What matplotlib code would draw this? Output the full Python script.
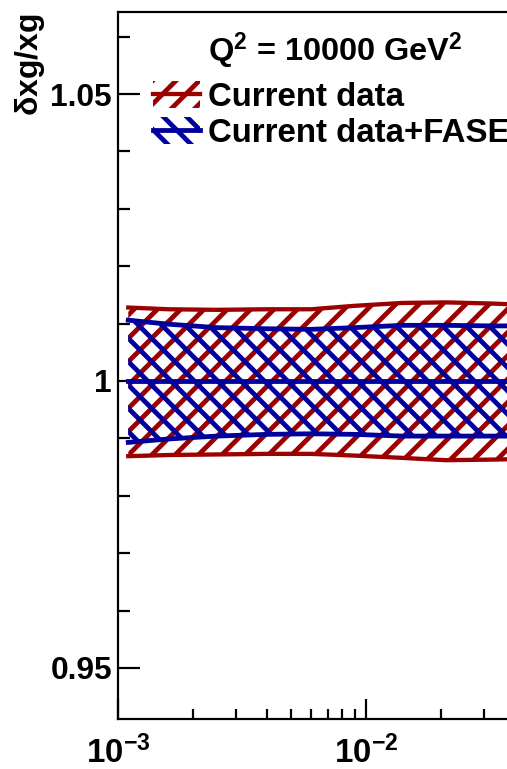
import numpy as np
import matplotlib
matplotlib.use("Agg")
import matplotlib.pyplot as plt
from matplotlib.patches import Patch
from matplotlib.lines import Line2D
from matplotlib.ticker import MultipleLocator, FuncFormatter, LogLocator, LogFormatterMathtext

# x values and relative uncertainty bands
x = [0.0011, 0.0016, 0.0025, 0.004, 0.006, 0.009, 0.014, 0.021, 0.032, 0.042]
cur_up = [1.0128, 1.0125, 1.0124, 1.0125, 1.0125, 1.0131, 1.0136, 1.0137, 1.0135, 1.0133]
cur_dn = [0.9869, 0.9871, 0.9872, 0.9873, 0.9873, 0.9870, 0.9866, 0.9862, 0.9863, 0.9864]
fas_up = [1.0106, 1.0099, 1.0093, 1.0091, 1.0090, 1.0093, 1.0097, 1.0097, 1.0096, 1.0096]
fas_dn = [0.9893, 0.9899, 0.9904, 0.9907, 0.9908, 0.9907, 0.9904, 0.9904, 0.9904, 0.9904]
central = [1.0] * len(x)

labels = ["Current data", "Current data+FASER"]
title = r"Q$^{\mathbf{2}}$ = 10000 GeV$^{\mathbf{2}}$"

red = "#9c0000"
blue = "#00009c"

plt.rcParams['font.family'] = ['Liberation Sans', 'DejaVu Sans']
plt.rcParams['font.weight'] = 'bold'
plt.rcParams['mathtext.fontset'] = 'custom'
plt.rcParams['mathtext.rm'] = 'Liberation Sans'
plt.rcParams['mathtext.it'] = 'Liberation Sans:italic'
plt.rcParams['mathtext.bf'] = 'Liberation Sans:bold'

dpi = 140
P = 72.0 / dpi  # points per pixel, sizes below are given in pixels
W, H = 507.0, 769.0
plt.rcParams['hatch.linewidth'] = 4.8 * P

fig = plt.figure(figsize=(W / dpi, H / dpi), dpi=dpi)
# axes runs off the right side like the cropped original
ax = fig.add_axes([118 / W, 50 / H, 496 / W, 707 / H])

ax.fill_between(x, cur_dn, cur_up, facecolor='none', edgecolor=red, hatch='//', linewidth=0)
ax.plot(x, cur_up, color=red, lw=4.3 * P)
ax.plot(x, cur_dn, color=red, lw=4.3 * P)

ax.fill_between(x, fas_dn, fas_up, facecolor='none', edgecolor=blue, hatch='\\\\', linewidth=0)
ax.plot(x, fas_up, color=blue, lw=4.8 * P)
ax.plot(x, fas_dn, color=blue, lw=4.8 * P)
ax.plot(x, central, color=blue, lw=4.8 * P)

ax.set_xscale('log')
ax.set_xlim(1e-3, 1e-1)
ax.set_ylim(0.9411, 1.0643)

for s in ['left', 'bottom', 'top']:
    ax.spines[s].set_linewidth(2.2 * P)
ax.spines['right'].set_visible(False)

ax.yaxis.set_major_locator(MultipleLocator(0.05))
ax.yaxis.set_minor_locator(MultipleLocator(0.01))
ax.yaxis.set_major_formatter(FuncFormatter(lambda v, p: f"{v:g}"))
ax.xaxis.set_major_locator(LogLocator(base=10, numticks=3))
ax.xaxis.set_minor_locator(LogLocator(base=10, subs=np.arange(2, 10)))
ax.xaxis.set_major_formatter(LogFormatterMathtext())

ax.tick_params(axis='y', which='major', direction='in', length=22 * P, width=2.2 * P,
               pad=6 * P, labelsize=31.7 * P)
ax.tick_params(axis='y', which='minor', direction='in', length=12 * P, width=2.2 * P)
ax.tick_params(axis='x', which='major', direction='in', length=20 * P, width=2.2 * P,
               pad=17 * P, labelsize=33 * P)
ax.tick_params(axis='x', which='minor', direction='in', length=10 * P, width=2.2 * P)

ax.set_ylabel(r"$\mathrm{\delta}$xg/xg", fontsize=32 * P, fontweight='bold', loc='top')
ax.yaxis.set_label_coords((47 - 118) / 496, 1 - 1 / 707)

fig.text(208 / W, 1 - 51 / H, title, fontsize=32.5 * P, va='center', ha='left')

handles = [
    (Patch(facecolor='none', edgecolor=red, hatch='//', linewidth=0), Line2D([], [], color=red, lw=4.3 * P)),
    (Patch(facecolor='none', edgecolor=blue, hatch='\\\\', linewidth=0), Line2D([], [], color=blue, lw=4.8 * P)),
]
leg = ax.legend(handles, labels, loc='upper left', bbox_to_anchor=(153 / W, 1 - 81 / H),
                bbox_transform=fig.transFigure, frameon=False, fontsize=33 * P,
                borderpad=0, borderaxespad=0, handlelength=1.42, handleheight=0.9,
                handletextpad=0.25, labelspacing=0.12)

fig.savefig("out.png", dpi=dpi)
